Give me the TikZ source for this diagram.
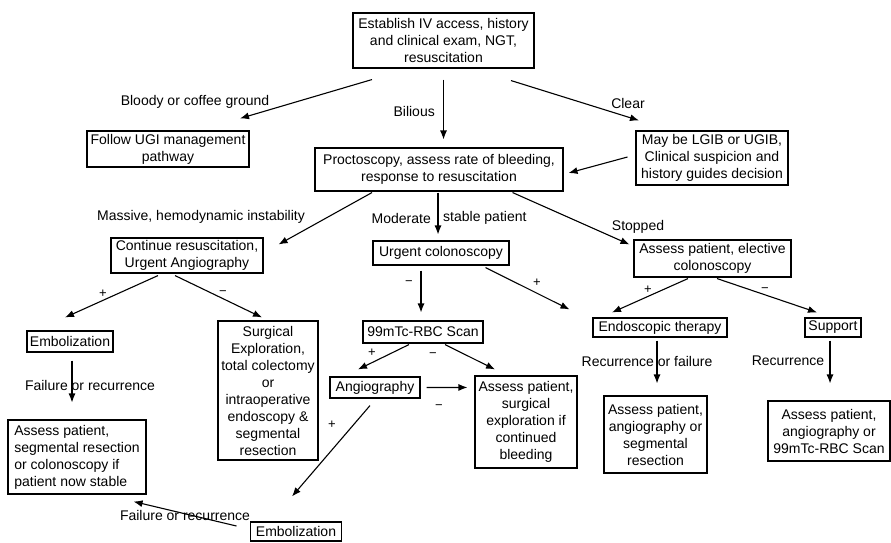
\documentclass[tikz,border=0pt]{standalone}
\usepackage{fontspec}
\setmainfont{Liberation Sans}
\usetikzlibrary{arrows.meta,calc}
\begin{document}
\begin{tikzpicture}[x=1pt,y=-1pt,
  box/.style={draw, line width=1.1pt, inner xsep=2pt, inner ysep=1pt, align=center, font=\fontsize{14}{17}\selectfont},
  lbl/.style={inner sep=0pt, font=\fontsize{14}{17}\selectfont},
  sgn/.style={inner sep=0pt, font=\fontsize{13}{15}\selectfont},
  arr/.style={line width=1.1pt, -{Latex[length=9pt,width=7pt]}}]
\useasboundingbox (0,0) rectangle (891,542);

% boxes
\node[box, minimum width=181pt, minimum height=55pt] (top) at (443.5,40.5) {Establish IV access, history\\and clinical exam, NGT,\\resuscitation};
\node[box, minimum width=162pt, minimum height=36pt] (ugi) at (168,149) {Follow UGI management\\pathway};
\node[box, minimum width=248pt, minimum height=43pt] (proc) at (439,169.5) {Proctoscopy, assess rate of bleeding,\\response to resuscitation};
\node[box, minimum width=152pt, minimum height=54pt] (lgib) at (712,158) {May be LGIB or UGIB,\\Clinical suspicion and\\history guides decision};
\node[box, minimum width=152pt, minimum height=35pt] (cont) at (187,255.5) {Continue resuscitation,\\Urgent Angiography};
\node[box, minimum width=136pt, minimum height=24pt] (urg) at (441,253) {Urgent colonoscopy};
\node[box, minimum width=157pt, minimum height=37pt] (elec) at (712.5,258.5) {Assess patient, elective\\colonoscopy};
\node[box, minimum width=86pt, minimum height=21pt] (emb1) at (70,341.5) {Embolization};
\node[box, minimum width=100pt, minimum height=139pt] (surg) at (268,390.5) {Surgical\\Exploration,\\total colectomy\\or\\intraoperative\\endoscopy \&\\segmental\\resection};
\node[box, minimum width=120pt, minimum height=22pt] (scan) at (423,332) {99mTc-RBC Scan};
\node[box, minimum width=90pt, minimum height=21pt] (angio) at (375,387.5) {Angiography};
\node[box, minimum width=102pt, minimum height=92pt] (asurg) at (526,422) {Assess patient,\\surgical\\exploration if\\continued\\bleeding};
\node[box, minimum width=134pt, minimum height=19pt] (endo) at (660,327.5) {Endoscopic therapy};
\node[box, minimum width=56pt, minimum height=19pt] (supp) at (833,327.5) {Support};
\node[box, align=left, minimum width=138pt, minimum height=74pt] (aseg) at (77,457) {Assess patient,\\segmental resection\\or colonoscopy if\\patient now stable};
\node[box, minimum width=103pt, minimum height=77pt] (aang) at (655.5,434.5) {Assess patient,\\angiography or\\segmental\\resection};
\node[box, minimum width=122pt, minimum height=60pt] (a99) at (829,431) {Assess patient,\\angiography or\\99mTc-RBC Scan};
\node[box, minimum width=91pt, minimum height=19pt] (emb2) at (296,531.5) {Embolization};

% connectors
\draw[arr] ($(top.south)+(-71.5,11)$) -- ($(ugi.north)+(72,-12)$);
\draw[arr] ($(top.south)+(0,11)$) -- ($(proc.north)+(4.5,-8)$);
\draw[arr] ($(top.south)+(67.5,12)$) -- ($(lgib.north)+(-73,-10)$);
\draw[arr] ($(lgib.west)+(-8,-1)$) -- ($(proc.east)+(5,3.5)$);
\draw[arr] ($(proc.south)+(-67,1)$) -- ($(cont.north east)+(15,7)$);
\draw[arr] ($(proc.south)+(-1,1)$) -- ($(urg.north)+(-3,-6)$);
\draw[arr] ($(proc.south east)+(-51,1)$) -- ($(elec.north west)+(-4,5)$);
\draw[arr] ($(cont.south)+(-29,2)$) -- ($(emb1.north)+(-5,-13)$);
\draw[arr] ($(cont.south)+(-12,2)$) -- ($(surg.north)+(-6,-3)$);
\draw[arr] ($(urg.south)+(-20,5)$) -- ($(scan.north)+(-2,-8)$);
\draw[arr] ($(urg.south east)+(-24,2)$) -- ($(endo.north west)+(-23,-8)$);
\draw[arr] ($(elec.south)+(-24.5,1)$) -- ($(endo.north)+(-48,-5)$);
\draw[arr] ($(elec.south)+(4.5,1)$) -- ($(supp.north)+(-16,-5)$);
\draw[arr] ($(emb1.south)+(2,8)$) -- ($(aseg.north)+(-5,-17)$);
\draw[arr] ($(scan.south)+(-14,1)$) -- ($(angio.north)+(-17,-7)$);
\draw[arr] ($(scan.south)+(22,1)$) -- ($(asurg.north)+(-31,-6)$);
\draw[arr] ($(angio.east)+(6,0)$) -- ($(asurg.north west)+(-7,12)$);
\draw[arr] ($(angio.south)+(-5,7)$) -- ($(emb2.north)+(-4,-25)$);
\draw[arr] ($(emb2.west)+(-13.5,-5.5)$) -- ($(aseg.south east)+(-13,7)$);
\draw[arr] ($(endo.south)+(-3,3)$) -- ($(aang.north)+(1.5,-12)$);
\draw[arr] ($(supp.south)+(-3,3)$) -- ($(a99.north)+(1,-17)$);

% labels
\node[lbl] (l1) at (195,102) {Bloody or coffee ground};
\node[lbl, anchor=east] (l2) at (435,111) {Bilious};
\node[lbl] (l3) at (628,103) {Clear};
\node[lbl] (l4) at (201,217) {Massive, hemodynamic instability};
\node[lbl, anchor=east] (l5) at (431,218) {Moderate};
\node[lbl, anchor=west] (l6) at (443,218) {stable patient};
\node[lbl] (l7) at (638,227) {Stopped};
\node[sgn] (s1) at (103,294) {+};
\node[sgn] (s2) at (223,293) {−};
\node[sgn] (s3) at (409,283) {−};
\node[sgn] (s4) at (537,283) {+};
\node[sgn] (s5) at (648,290) {+};
\node[sgn] (s6) at (765,290) {−};
\node[lbl] (l8) at (90,385) {Failure or recurrence};
\node[sgn] (s7) at (372,353) {+};
\node[sgn] (s8) at (433,355) {−};
\node[sgn] (s9) at (439,407) {−};
\node[sgn] (s10) at (332,425) {+};
\node[lbl] (l9) at (647,361) {Recurrence or failure};
\node[lbl] (l10) at (788,361) {Recurrence};
\node[lbl] (l11) at (185,515) {Failure or recurrence};
\end{tikzpicture}
\end{document}
